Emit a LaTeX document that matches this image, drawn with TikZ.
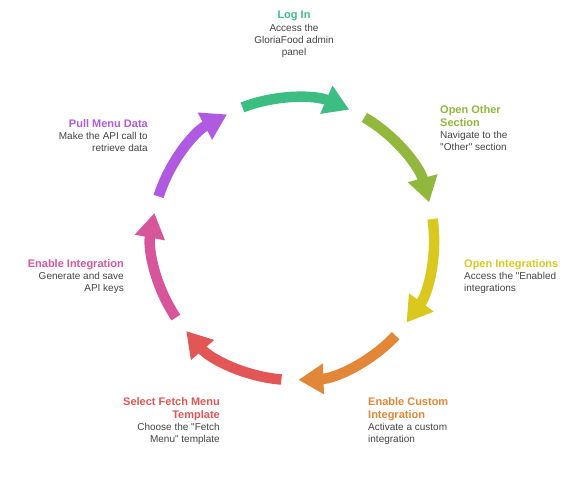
\documentclass[tikz,border=0pt]{standalone}
\usepackage{fontspec}
\setmainfont{Liberation Sans}
\setmonofont{Liberation Sans}
\usetikzlibrary{arrows.meta,calc}
\definecolor{cgreen}{RGB}{60,190,130}
\definecolor{colive}{RGB}{145,183,60}
\definecolor{cyellow}{RGB}{218,200,30}
\definecolor{corange}{RGB}{225,135,55}
\definecolor{cred}{RGB}{226,86,86}
\definecolor{cpink}{RGB}{215,85,155}
\definecolor{cpurple}{RGB}{175,90,225}
\definecolor{descgray}{RGB}{68,68,68}
\newcommand\sq{{\ttfamily"}}
\tikzset{
  cyclearrow/.style={line width=10.5pt, line cap=butt, -{Triangle[width=29pt,length=25pt]}},
  titletext/.style={font=\fontsize{11}{13}\selectfont\bfseries, inner sep=0pt},
  desctext/.style={font=\fontsize{10}{12}\selectfont, text=descgray, inner sep=0pt}
}
\begin{document}
\begin{tikzpicture}[x=1pt,y=1pt]
\useasboundingbox (0,0) rectangle (588,500);
\coordinate (c) at (293,261);
\def\myR{141}
\def\myspan{-44.5}
% arc start points
\coordinate (s1) at ($(c)+(111:\myR)$);
\coordinate (s2) at ($(c)+(59.57:\myR)$);
\coordinate (s3) at ($(c)+(8.14:\myR)$);
\coordinate (s4) at ($(c)+(-43.29:\myR)$);
\coordinate (s5) at ($(c)+(-94.71:\myR)$);
\coordinate (s6) at ($(c)+(-146.14:\myR)$);
\coordinate (s7) at ($(c)+(-197.57:\myR)$);
% arrows
\draw[cyclearrow, cgreen]  (s1) arc[start angle=111,     delta angle=\myspan, radius=\myR];
\draw[cyclearrow, colive]  (s2) arc[start angle=59.57,   delta angle=\myspan, radius=\myR];
\draw[cyclearrow, cyellow] (s3) arc[start angle=8.14,    delta angle=\myspan, radius=\myR];
\draw[cyclearrow, corange] (s4) arc[start angle=-43.29,  delta angle=\myspan, radius=\myR];
\draw[cyclearrow, cred]    (s5) arc[start angle=-94.71,  delta angle=\myspan, radius=\myR];
\draw[cyclearrow, cpink]   (s6) arc[start angle=-146.14, delta angle=\myspan, radius=\myR];
\draw[cyclearrow, cpurple] (s7) arc[start angle=-197.57, delta angle=\myspan, radius=\myR];
% texts
\node[titletext, text=cgreen, anchor=north, align=center] (t1) at (294,488.9) {Log In};
\node[desctext, anchor=north, align=center] (d1) at (294,476.2) {Access the\\GloriaFood admin\\panel};
\node[titletext, text=colive, anchor=north west, align=left] (t2) at (440,394.9) {Open Other\\Section};
\node[desctext, anchor=north west, align=left] (d2) at (440,369.2) {Navigate to the\\\sq Other\sq{} section};
\node[titletext, text=cyellow, anchor=north west, align=left] (t3) at (464,240.9) {Open Integrations};
\node[desctext, anchor=north west, align=left] (d3) at (464,228.2) {Access the \sq Enabled\\integrations};
\node[titletext, text=corange, anchor=north west, align=left] (t4) at (368,102.9) {Enable Custom\\Integration};
\node[desctext, anchor=north west, align=left] (d4) at (368,77.2) {Activate a custom\\integration};
\node[titletext, text=cred, anchor=north east, align=right] (t5) at (220,102.9) {Select Fetch Menu\\Template};
\node[desctext, anchor=north east, align=right] (d5) at (220,77.2) {Choose the \sq Fetch\\Menu\sq{} template};
\node[titletext, text=cpink, anchor=north east, align=right] (t6) at (124,240.9) {Enable Integration};
\node[desctext, anchor=north east, align=right] (d6) at (124,228.2) {Generate and save\\API keys};
\node[titletext, text=cpurple, anchor=north east, align=right] (t7) at (148,380.9) {Pull Menu Data};
\node[desctext, anchor=north east, align=right] (d7) at (148,368.2) {Make the API call to\\retrieve data};
\end{tikzpicture}
\end{document}
